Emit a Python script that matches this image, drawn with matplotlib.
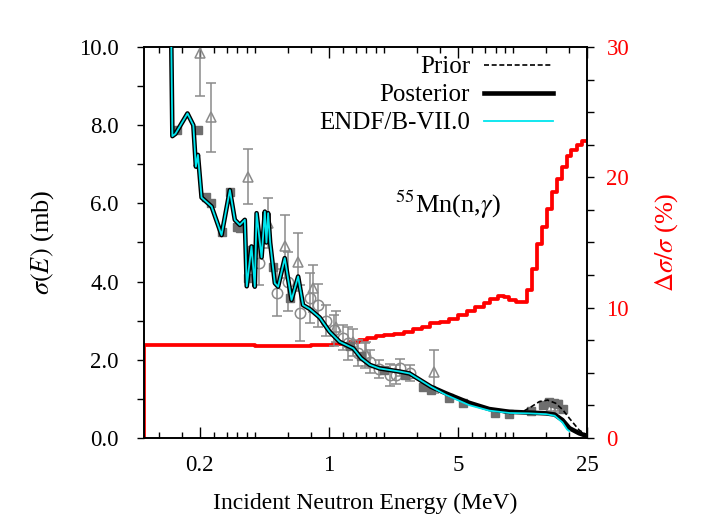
import numpy as np
import matplotlib.pyplot as plt
from matplotlib.ticker import FixedLocator, NullFormatter

plt.rcParams['font.family'] = ['Liberation Serif', 'DejaVu Serif']
plt.rcParams['mathtext.fontset'] = 'stix'
plt.rcParams['font.size'] = 16.5

# resolved-resonance part, shared by all evaluations (MeV, mb)
res_E = [0.1390, 0.1425, 0.1480, 0.1720, 0.1850, 0.1910, 0.1960, 0.2050, 0.2323,
         0.2630, 0.2917, 0.3103, 0.3302, 0.3514, 0.3600, 0.3820, 0.3980, 0.4070,
         0.4330, 0.4510, 0.4600, 0.4700, 0.4820, 0.5110, 0.5320, 0.5780, 0.6290,
         0.6830, 0.7260, 0.7890, 0.8940, 1.010, 1.146, 1.360, 1.500, 1.670, 1.880,
         2.420, 2.740, 3.580]
res_xs = [12.0, 7.72, 7.78, 8.30, 8.00, 6.94, 7.24, 6.15, 5.92,
          5.19, 6.34, 5.58, 5.45, 5.58, 3.88, 4.90, 3.87, 5.75,
          4.62, 5.79, 5.00, 5.75, 5.00, 3.96, 3.87, 4.60, 3.53,
          4.13, 3.40, 3.30, 3.08, 2.72, 2.46, 2.29, 2.04, 1.87, 1.78,
          1.70, 1.65, 1.31]

# fast-neutron tails
post_E_hi = [4.32, 5.76, 7.40, 9.50, 12.1, 15.0, 16.7, 18.4, 20.1, 22.7, 25.0]
post_xs_hi = [1.14, 0.90, 0.74, 0.67, 0.65, 0.63, 0.60, 0.46, 0.25, 0.12, 0.05]

prior_E_hi = [4.32, 5.76, 7.40, 9.50, 11.2, 12.5, 13.8, 15.3, 16.9, 18.5, 20.1, 22.7, 25.0]
prior_xs_hi = [1.14, 0.90, 0.72, 0.63, 0.67, 0.80, 0.93, 0.97, 0.89, 0.72, 0.50, 0.20, 0.08]

endf_E_hi = [4.32, 5.76, 7.40, 9.50, 12.1, 15.0, 16.7, 18.4, 19.5, 20.0]
endf_xs_hi = [1.10, 0.84, 0.70, 0.64, 0.63, 0.61, 0.57, 0.40, 0.22, 0.18]

# relative uncertainty of the posterior, step histogram (bin edges in MeV, %)
unc_edges = [0.10, 0.40, 0.60, 0.80, 0.95, 1.05, 1.15, 1.30, 1.45, 1.62, 1.80, 2.00,
             2.25, 2.55, 2.85, 3.20, 3.55, 4.00, 4.50, 5.00, 5.60, 6.20, 6.90, 7.50,
             8.20, 8.90, 9.50, 10.3, 11.8, 12.6, 13.4, 14.2, 15.1, 16.1, 17.1, 18.2,
             19.4, 20.6, 22.0, 23.4, 25.0]
unc_pct = [7.15, 7.05, 7.07, 7.10, 7.13, 7.18, 7.25, 7.40, 7.55, 7.70, 7.80,
           7.90, 7.95, 8.10, 8.35, 8.55, 8.80, 8.90, 9.15, 9.45, 9.75, 10.05,
           10.35, 10.70, 10.90, 10.85, 10.60, 10.40, 11.35, 13.0, 14.9, 16.2,
           17.6, 18.9, 19.9, 20.8, 21.6, 22.1, 22.5, 22.75]

# measurements
tri_E = [0.201, 0.232, 0.366, 0.470, 0.580, 0.680, 0.822, 1.10, 1.35, 1.60, 3.70, 16.0, 17.5]
tri_xs = [9.85, 8.20, 6.68, 5.50, 4.90, 4.50, 3.83, 2.85, 2.45, 2.15, 1.70, 0.80, 0.78]
tri_err = [1.10, 0.88, 0.70, 0.65, 0.80, 0.75, 0.60, 0.40, 0.35, 0.30, 0.55, 0.12, 0.10]

circ_E = [0.421, 0.525, 0.600, 0.700, 0.790, 0.870, 0.970, 1.07, 1.19, 1.27, 1.44,
          1.57, 1.67, 1.88, 2.14, 2.30, 2.42, 2.74]
circ_xs = [4.48, 3.72, 4.00, 3.19, 3.57, 3.40, 3.00, 2.75, 2.56, 2.42, 2.17,
           2.10, 1.95, 1.77, 1.61, 1.62, 1.80, 1.66]
circ_err = [0.56, 0.59, 0.75, 0.72, 0.64, 0.55, 0.40, 0.40, 0.32, 0.42, 0.34,
            0.32, 0.30, 0.23, 0.27, 0.25, 0.22, 0.20]

sq_E = [0.150, 0.196, 0.218, 0.232, 0.263, 0.292, 0.317, 0.330, 0.366, 0.382, 0.500,
        0.615, 1.30, 1.50, 2.00, 2.60, 3.22, 3.58, 4.50, 5.30, 7.90, 9.50, 12.5,
        14.5, 15.5, 16.5, 17.5, 18.5]
sq_xs = [7.88, 7.88, 6.17, 6.00, 5.28, 6.30, 5.40, 5.36, 4.08, 4.80, 4.38,
         3.57, 2.35, 2.10, 1.75, 1.62, 1.31, 1.23, 1.02, 0.89, 0.63, 0.62, 0.70,
         0.85, 0.92, 0.90, 0.88, 0.75]
sq_err = [0.0, 0.0, 0.0, 0.0, 0.0, 0.0, 0.0, 0.0, 0.0, 0.0, 0.0,
          0.0, 0.0, 0.0, 0.0, 0.0, 0.0, 0.0, 0.0, 0.0, 0.0, 0.0, 0.06,
          0.08, 0.08, 0.08, 0.08, 0.08]

post_E = res_E + post_E_hi
post_xs = res_xs + post_xs_hi
prior_E = res_E + prior_E_hi
prior_xs = res_xs + prior_xs_hi
endf_E = res_E + endf_E_hi
endf_xs = res_xs + endf_xs_hi

fig = plt.figure(figsize=(7.04, 5.21), dpi=100)
ax = fig.add_axes([0.2045, 0.1593, 0.6293, 0.7505])
ax2 = ax.twinx()
ax.set_zorder(ax2.get_zorder() + 1)
ax.patch.set_visible(False)

gray = '#8a8a8a'
ax.errorbar(tri_E, tri_xs, yerr=tri_err, fmt='^', ms=7, mfc='none', mec=gray,
            mew=1.1, ecolor=gray, elinewidth=1.1, capsize=3.5, capthick=1.1, zorder=2)
ax.errorbar(circ_E, circ_xs, yerr=circ_err, fmt='o', ms=7.5, mfc='none', mec=gray,
            mew=1.1, ecolor=gray, elinewidth=1.1, capsize=3.5, capthick=1.1, zorder=2)
ax.errorbar(sq_E, sq_xs, yerr=sq_err, fmt='s', ms=6, mfc='#6e6e6e', mec='#6e6e6e',
            ecolor=gray, elinewidth=1.1, capsize=3.0, zorder=2)

ax.plot(prior_E, prior_xs, color='black', lw=1.2, dashes=(3, 1.6), zorder=3, label='Prior')
ax.plot(post_E, post_xs, color='black', lw=3.3, zorder=4, label='Posterior')
ax.plot(endf_E, endf_xs, color='#00e5ee', lw=1.3, zorder=5, label='ENDF/B-VII.0')

# uncertainty histogram on the right axis
step_x = [unc_edges[0]] + unc_edges
step_y = [0.0] + unc_pct + [unc_pct[-1]]
ax2.step(step_x, step_y, where='post', color='red', lw=2.7)

ax.set_xscale('log')
ax.set_xlim(0.1, 25)
ax.set_ylim(0, 10)
ax2.set_ylim(0, 30)

ax.xaxis.set_major_locator(FixedLocator([0.2, 1, 5, 25]))
ax.set_xticklabels(['0.2', '1', '5', '25'])
minor = [0.12, 0.16, 0.24, 0.28, 0.32, 0.36, 0.4, 0.6, 0.8,
         1.2, 1.4, 1.6, 1.8, 2, 3, 4, 6, 7, 8, 9, 10, 15, 20]
ax.xaxis.set_minor_locator(FixedLocator(minor))
ax.xaxis.set_minor_formatter(NullFormatter())
ax.tick_params(axis='x', which='major', direction='in', length=8, width=1, top=True, pad=12)
ax.tick_params(axis='x', which='minor', direction='in', length=4, width=1, top=True)

ax.set_yticks([0, 2, 4, 6, 8, 10])
ax.set_yticklabels(['0.0', '2.0', '4.0', '6.0', '8.0', '10.0'])
ax.set_yticks([1, 3, 5, 7, 9], minor=True)
ax.tick_params(axis='y', which='both', direction='out', length=5, width=1, pad=13)

ax2.set_yticks([0, 10, 20, 30])
ax2.set_yticks([2.5, 5, 7.5, 12.5, 15, 17.5, 22.5, 25, 27.5], minor=True)
ax2.tick_params(axis='y', which='both', direction='out', length=5, width=1,
                labelcolor='red', pad=9)

for a in (ax, ax2):
    for s in a.spines.values():
        s.set_linewidth(1.2)

ax.set_xlabel('Incident Neutron Energy (MeV)', fontsize=17, labelpad=12)
ax.set_ylabel(r'$\sigma(E)$ (mb)', fontsize=19, labelpad=17)
ax2.set_ylabel(r'$\Delta\sigma/\sigma$ (%)', color='red', fontsize=19, labelpad=17)

ax.text(0.567, 0.575, r'$^{55}$Mn(n,$\gamma$)', transform=ax.transAxes,
        fontsize=19, va='baseline')

ax.legend(loc='upper right', bbox_to_anchor=(0.923, 0.977), frameon=False,
          markerfirst=False, handlelength=2.76, handletextpad=0.56, fontsize=18,
          labelspacing=0.22, borderaxespad=0.0, borderpad=0.0)

fig.savefig('out.png', dpi=100)
